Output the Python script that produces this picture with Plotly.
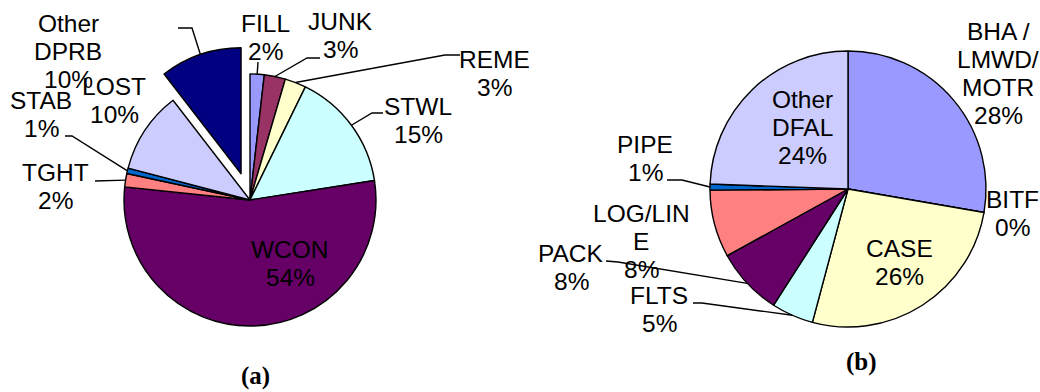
import math
import plotly.graph_objects as go

W, H = 1040, 392

# ---------------- data ----------------
cats_a = ["FILL", "JUNK", "REME", "STWL", "WCON", "TGHT", "STAB", "LOST", "Other DPRB"]
vals_a = [1.8, 2.7, 2.7, 15.2, 53.8, 1.7, 0.7, 10.4, 10.4]

cats_b = ["BHA / LMWD/ MOTR", "BITF", "CASE", "FLTS", "PACK", "LOG/LINE", "PIPE", "Other DFAL"]
vals_b = [27.7, 0, 26.4, 4.9, 7.9, 7.9, 0.7, 24.4]

panel_titles = ["(a)", "(b)"]

# ---------------- styling / layout ----------------
colors_a = ["#9999FF", "#993366", "#FFFFCC", "#CCFFFF", "#660066",
            "#FF8080", "#0066CC", "#CCCCFF", "#000080"]
colors_b = ["#9999FF", "#993366", "#FFFFCC", "#CCFFFF", "#660066",
            "#FF8080", "#0066CC", "#CCCCFF"]
pull_a = [0, 0, 0, 0, 0, 0, 0, 0, 0.22]
pull_b = [0] * len(vals_b)

A_CX, A_CY, A_R = 250, 200, 126
B_CX, B_CY, B_R = 848, 189, 138

# how the category names wrap in the labels
wrap = {
    "Other DPRB": ["Other", "DPRB"],
    "BHA / LMWD/ MOTR": ["BHA /", "LMWD/", "MOTR"],
    "LOG/LINE": ["LOG/LIN", "E"],
    "Other DFAL": ["Other", "DFAL"],
}

# label placement: (center x, first baseline y) in pixels
label_pos_a = {
    "FILL": (265, 32), "JUNK": (340, 30), "REME": (494, 68), "STWL": (418, 115),
    "WCON": (290, 258), "TGHT": (55, 181), "STAB": (41, 109), "LOST": (114, 95),
    "Other DPRB": (68, 32),
}
label_pos_b = {
    "BHA / LMWD/ MOTR": (998, 40), "BITF": (1012, 208), "CASE": (899, 257),
    "FLTS": (659, 304), "PACK": (571, 262), "LOG/LINE": (641, 222),
    "PIPE": (645, 153), "Other DFAL": (802, 108),
}
# leader line elbows (pixels); final point is computed on the slice
lead_a = {
    "FILL": [(258, 62)], "JUNK": [(320, 58), (307, 58)],
    "REME": [(460, 55), (445, 55)], "STWL": [(383, 113), (372, 113)],
    "TGHT": [(95, 181)], "STAB": [(65, 136), (72, 136)],
    "Other DPRB": [(178, 28), (192, 28)],
}
lead_b = {
    "PIPE": [(667, 180), (682, 180)], "PACK": [(606, 261), (618, 262)],
    "FLTS": [(693, 303), (702, 303)],
}

FONT = "Liberation Sans, Arial, sans-serif"
FS = 24.5
LINE = 28


def dom(cx, cy, r, maxpull):
    half = r * (1 + maxpull)
    return dict(x=[(cx - half) / W, (cx + half) / W],
                y=[1 - (cy + half) / H, 1 - (cy - half) / H])


def slice_point(vals, i, cx, cy, r, pulls):
    tot = sum(vals)
    start = sum(vals[:i]) / tot * 360
    mid = start + vals[i] / tot * 180
    th = math.radians(mid)
    dist = r * (1 + pulls[i])
    return cx + dist * math.sin(th), cy - dist * math.cos(th)


def px(x, y):
    return x / W, 1 - y / H


fig = go.Figure()
fig.add_trace(go.Pie(
    labels=cats_a, values=vals_a, sort=False, direction="clockwise", rotation=0,
    marker=dict(colors=colors_a, line=dict(color="black", width=1.4)),
    pull=pull_a, textinfo="none", hoverinfo="label+percent",
    domain=dom(A_CX, A_CY, A_R, max(pull_a)), showlegend=False,
))
fig.add_trace(go.Pie(
    labels=cats_b, values=vals_b, sort=False, direction="clockwise", rotation=0,
    marker=dict(colors=colors_b, line=dict(color="black", width=1.4)),
    pull=pull_b, textinfo="none", hoverinfo="label+percent",
    domain=dom(B_CX, B_CY, B_R, max(pull_b)), showlegend=False,
))

annotations = []
shapes = []


def add_labels(cats, vals, pos, leads, cx, cy, r, pulls):
    tot = sum(vals)
    for i, c in enumerate(cats):
        lines = wrap.get(c, [c]) + [f"{round(vals[i] / tot * 100)}%"]
        x0, b0 = pos[c]
        for k, t in enumerate(lines):
            xx, yy = px(x0, b0 + k * LINE - 8.5)
            annotations.append(dict(
                x=xx, y=yy, xref="paper", yref="paper", text=t, showarrow=False,
                xanchor="center", yanchor="middle",
                font=dict(family=FONT, size=FS, color="black")))
        if c in leads:
            pts = list(leads[c]) + [slice_point(vals, i, cx, cy, r, pulls)]
            path = ""
            for j, (x, y) in enumerate(pts):
                xx, yy = px(x, y)
                path += ("M" if j == 0 else " L") + f" {xx:.5f} {yy:.5f}"
            shapes.append(dict(type="path", xref="paper", yref="paper", path=path,
                               line=dict(color="black", width=1.4)))


add_labels(cats_a, vals_a, label_pos_a, lead_a, A_CX, A_CY, A_R, pull_a)
add_labels(cats_b, vals_b, label_pos_b, lead_b, B_CX, B_CY, B_R, pull_b)

for t, (x, y) in zip(panel_titles, [(255, 376), (861, 362)]):
    xx, yy = px(x, y)
    annotations.append(dict(
        x=xx, y=yy, xref="paper", yref="paper", text=f"<b>{t}</b>", showarrow=False,
        xanchor="center", yanchor="middle",
        font=dict(family="Liberation Serif, Times New Roman, serif", size=25, color="black")))

fig.update_layout(
    width=W, height=H, margin=dict(l=0, r=0, t=0, b=0),
    paper_bgcolor="white", plot_bgcolor="white", showlegend=False,
    annotations=annotations, shapes=shapes,
)

fig.write_html("out.html")
